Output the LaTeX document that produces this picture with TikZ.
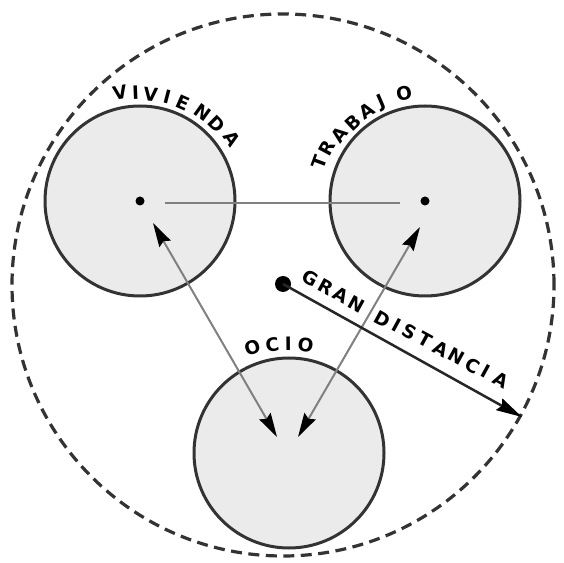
\documentclass[tikz,border=0pt]{standalone}
\usepackage{fontspec}
\setsansfont{DejaVu Sans}
\usetikzlibrary{arrows.meta,calc}
\begin{document}
\begin{tikzpicture}[x=1pt,y=1pt,
  zone/.style={circle, draw=black!80, line width=3pt, fill=black!8, minimum size=190pt, inner sep=0pt},
  outer/.style={draw=black!80, line width=3.2pt, dash pattern=on 11pt off 6.5pt},
  link/.style={draw=black!50, line width=2pt},
  dotc/.style={circle, fill=black, minimum size=9pt, inner sep=0pt},
  dualarrow/.style={link, arrows={Stealth[length=24pt,width=13pt,inset=3pt,color=black]-Stealth[length=24pt,width=13pt,inset=3pt,color=black]}},
  lbl/.style={font=\sffamily\bfseries\fontsize{18.5}{18.5}\selectfont, inner sep=0pt, text=black}]
\useasboundingbox (0,0) rectangle (564,562);
\fill[white] (0,0) rectangle (564,562);
\draw[outer] (283,277) circle (271);
\node[zone] (viv) at (140,361) {};
\node[zone] (tra) at (425,361) {};
\node[zone] (oci) at (289,109) {};
\node[dotc] (vdot) at (viv.center) {};
\node[dotc] (tdot) at (tra.center) {};
% horizontal link
\coordinate (h1) at ([xshift=25pt,yshift=-2pt]viv.center);
\coordinate (h2) at ([xshift=-25pt,yshift=-2pt]tra.center);
\draw[link] (h1) -- (h2);
% double arrows
\coordinate (va) at (153,339);
\coordinate (oa) at (277,125);
\coordinate (ta) at (420,335);
\coordinate (ob) at (298,125);
\draw[dualarrow] (va) -- (oa);
\draw[dualarrow] (ta) -- (ob);
% gran distancia
\node[circle, fill=black, minimum size=16pt, inner sep=0pt] (gd) at (283,278) {};
\coordinate (gdend) at (522,145);
\draw[line width=2.5pt, draw=black!85, -{Stealth[length=26pt,width=13pt,inset=3pt,color=black]}] (gd.center) -- (gdend);
% arc labels
\foreach \ch/\a/\r [count=\i] in {V/100.4/110.5, I/92.3/108.8, V/84.3/107.5, I/75.4/107.4, E/66.3/107, N/54.4/108.2, D/45/108.9, A/34/111}{
  \pgfmathsetmacro\rot{\a-90}
  \node[lbl, rotate=\rot] (viv\i) at ($(viv.center)+(\a:\r)$) {\ch};
}
\foreach \ch/\a/\r [count=\i] in {T/159.8/113, R/151.7/111, A/142.5/108.4, B/132.7/106.5, A/123.1/107, J/113.5/107.4, O/101/110}{
  \pgfmathsetmacro\rot{\a-90}
  \node[lbl, rotate=\rot] (tra\i) at ($(tra.center)+(\a:\r)$) {\ch};
}
\foreach \ch/\a/\r [count=\i] in {O/109.1/111.9, C/98.8/109.3, I/90.4/109, O/81.2/109.3}{
  \pgfmathsetmacro\rot{\a-90}
  \node[lbl, rotate=\rot] (oci\i) at ($(oci.center)+(\a:\r)$) {\ch};
}
\foreach \ch/\x/\y [count=\i] in {G/310.7/283.7, R/325.7/275.3, A/340.7/267, N/356.7/258, D/382.3/243, I/396.7/237, S/410/230.3, T/425.7/222, A/440.7/213, N/456.7/205.3, C/472.3/196.3, I/485.7/190.3, A/500.7/182}{
  \node[lbl, rotate=-28.8] (gdl\i) at (\x,\y) {\ch};
}
\end{tikzpicture}
\end{document}
